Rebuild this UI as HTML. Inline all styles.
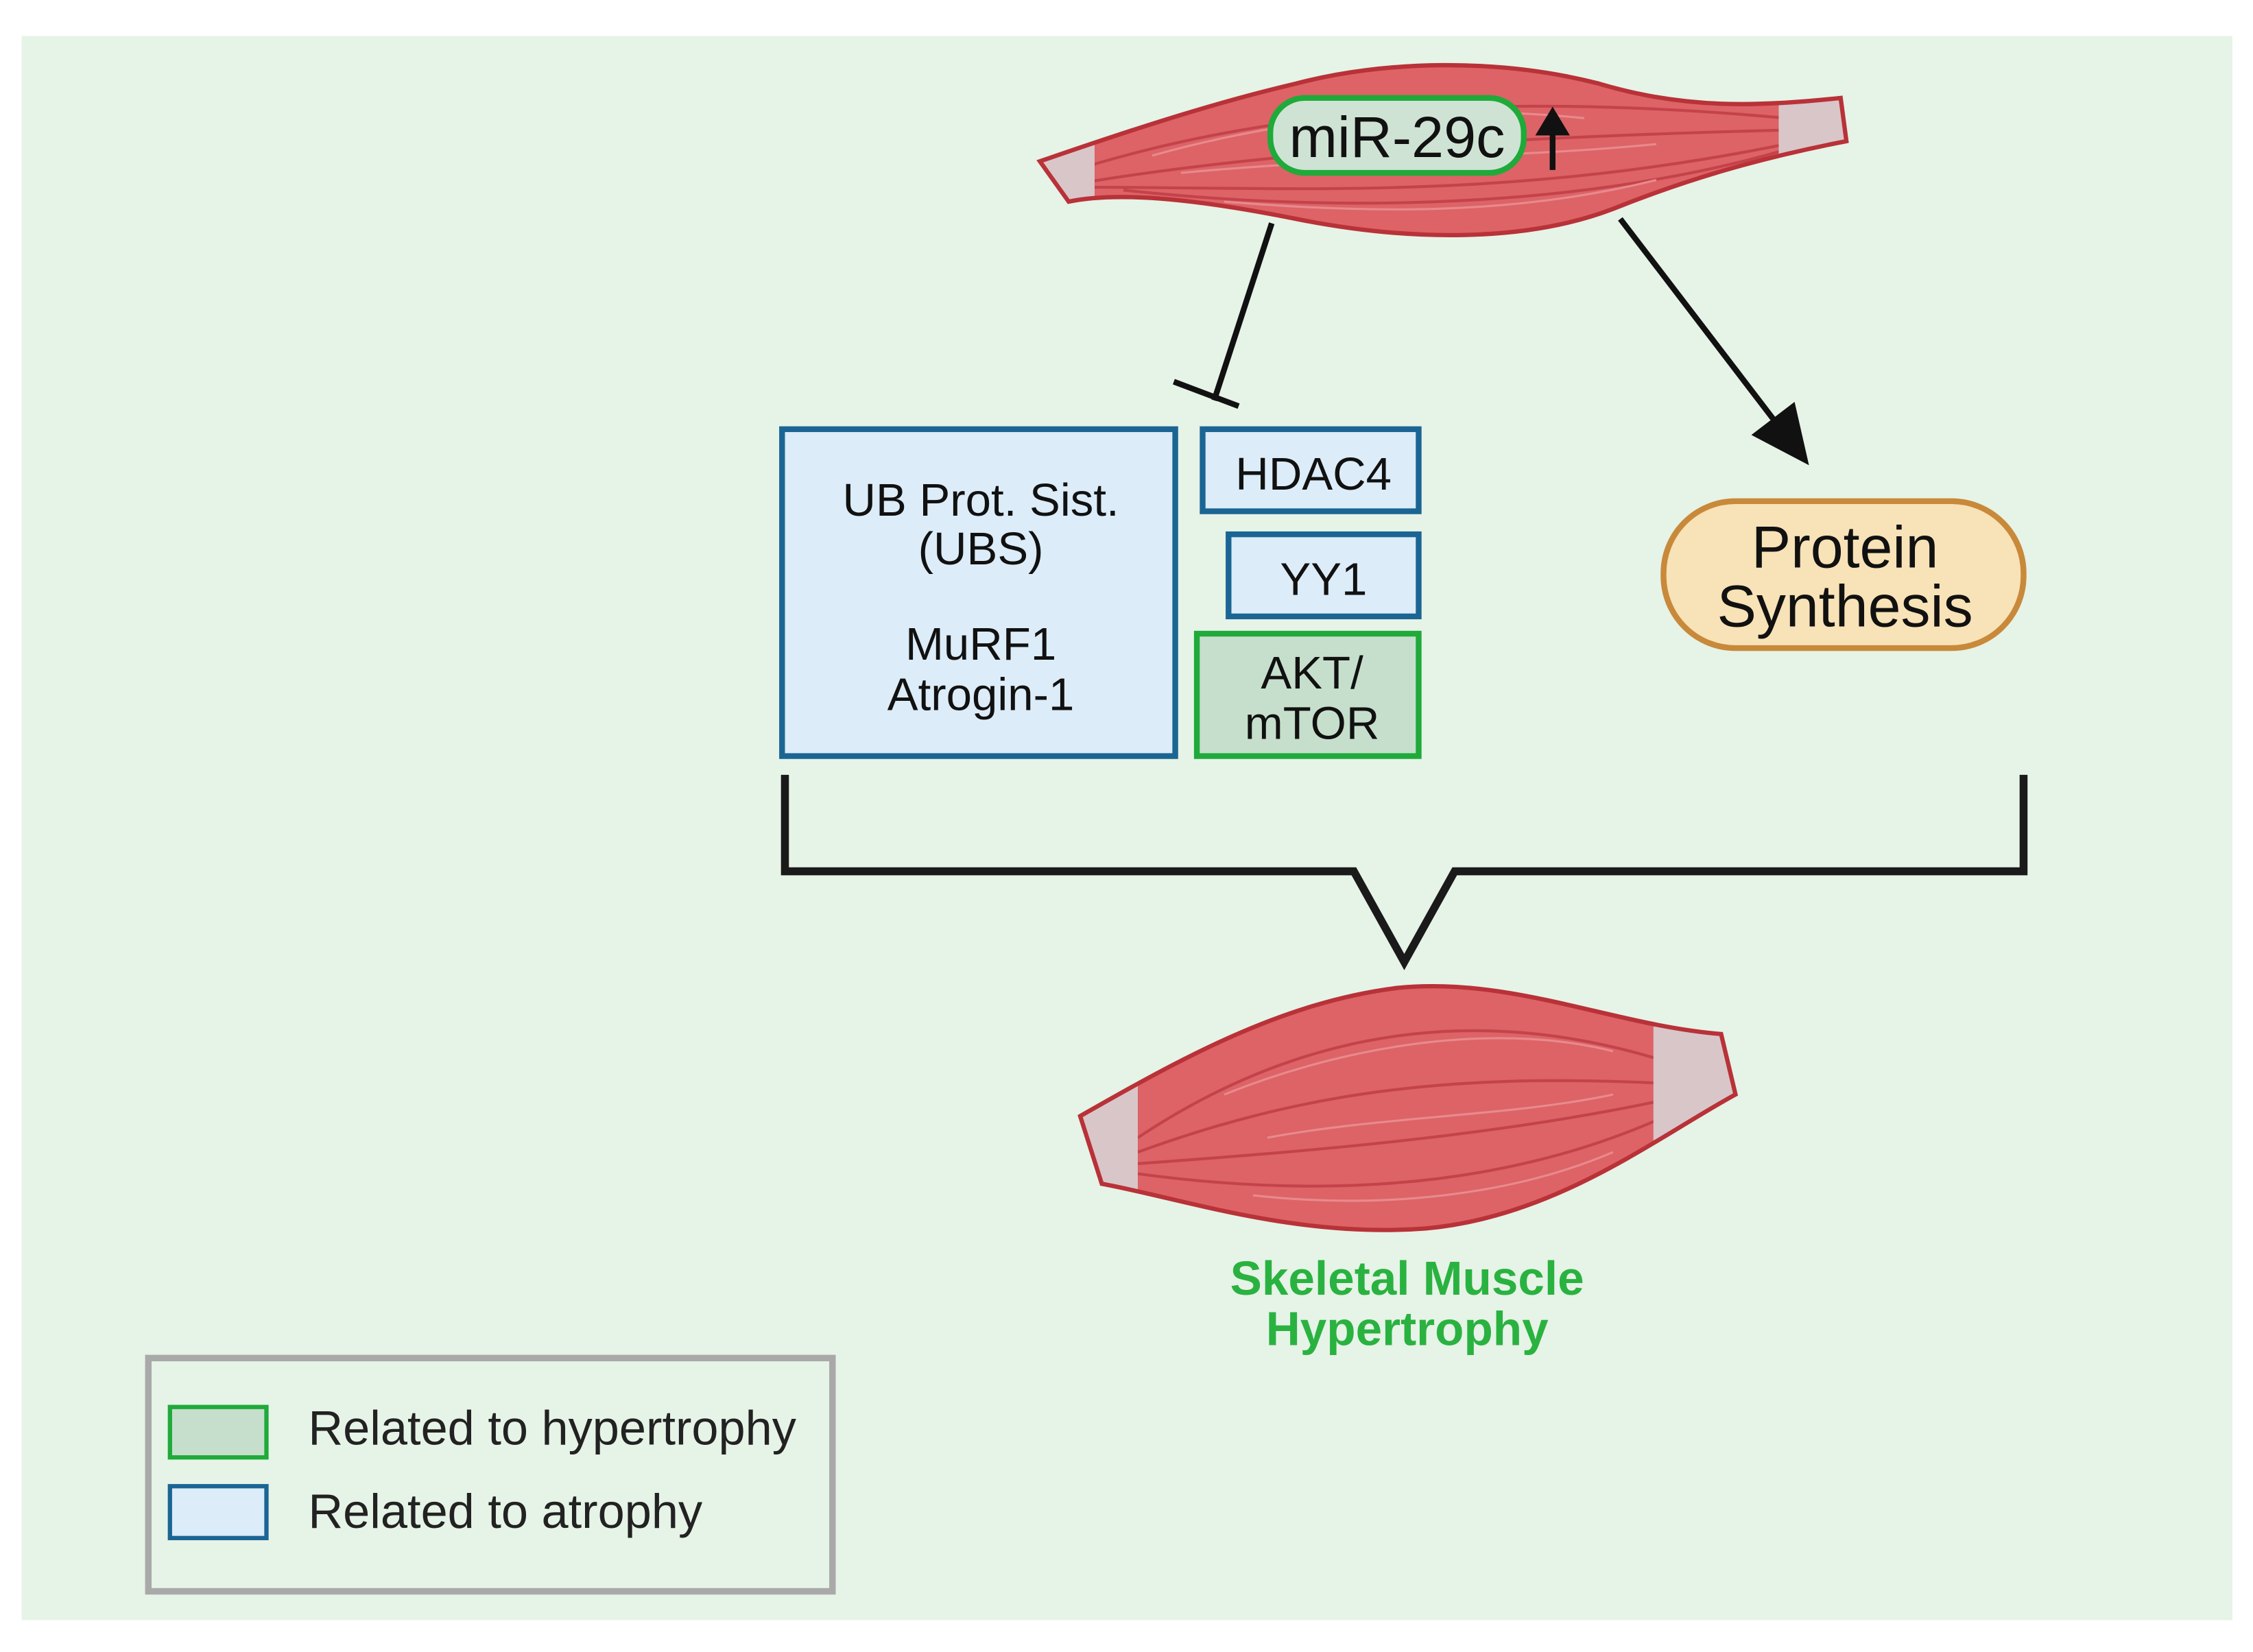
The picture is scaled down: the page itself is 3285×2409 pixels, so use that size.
<!DOCTYPE html>
<html><head><meta charset="utf-8"><style>
html,body{margin:0;padding:0;background:#fff;}
svg{display:block;}
text{font-family:"Liberation Sans",sans-serif;}
</style></head><body>
<svg width="3285" height="2409" viewBox="0 0 1564.3 1147.1" xmlns="http://www.w3.org/2000/svg">
<defs>
<clipPath id="m1"><path d="M722,112 C780,92 840,72 900,58 C960,42 1040,40 1110,58 C1170,76 1220,74 1278,68 L1282,98 C1220,110 1170,125 1120,145 C1060,168 980,168 900,152 C840,140 780,132 742,140 Z"/></clipPath>
<clipPath id="m2"><path d="M750,775 C820,735 890,696 970,686 C1050,678 1120,712 1195,718 L1205,760 C1150,790 1080,845 990,853 C900,860 820,832 765,822 Z"/></clipPath>
</defs>
<rect x="15" y="25" width="1535" height="1100" fill="#e6f3e7"/>

<!-- top muscle -->
<g clip-path="url(#m1)">
<rect x="700" y="30" width="600" height="150" fill="#dd6367"/>
<path d="M740,120 C850,85 1000,60 1240,82 M745,128 C880,105 1050,95 1250,90 M760,130 C900,130 1050,140 1250,98 M780,132 C900,145 1080,150 1240,104" stroke="#c4434a" stroke-width="2" fill="none"/>
<path d="M800,108 C900,80 1000,72 1100,82 M820,120 C950,108 1050,110 1150,100 M850,140 C950,148 1050,150 1150,125" stroke="#e88a8d" stroke-width="1.5" fill="none"/>
<rect x="700" y="30" width="60" height="150" fill="#d9c6c9"/>
<rect x="1235" y="30" width="60" height="150" fill="#d9c6c9"/>
</g>
<path d="M722,112 C780,92 840,72 900,58 C960,42 1040,40 1110,58 C1170,76 1220,74 1278,68 L1282,98 C1220,110 1170,125 1120,145 C1060,168 980,168 900,152 C840,140 780,132 742,140 Z" fill="none" stroke="#b83238" stroke-width="3"/>
<rect x="882" y="68" width="176" height="52" rx="24" fill="#cfe3d4" stroke="#1faa3a" stroke-width="4"/>
<text x="970" y="109" font-size="40" text-anchor="middle" fill="#111" textLength="150" lengthAdjust="spacingAndGlyphs">miR-29c</text>
<line x1="1078" y1="118" x2="1078" y2="90" stroke="#111" stroke-width="4"/>
<polygon points="1078,74 1066,94 1090,94" fill="#111"/>

<!-- connectors -->
<line x1="883" y1="155" x2="843" y2="278" stroke="#111" stroke-width="4"/>
<line x1="815" y1="265" x2="860" y2="282" stroke="#111" stroke-width="4"/>
<line x1="1125" y1="152" x2="1232" y2="292" stroke="#111" stroke-width="4"/>
<polygon points="1256,323 1216,302 1246,279" fill="#111"/>

<!-- boxes -->
<rect x="543" y="298" width="273" height="227" fill="#dcecf8" stroke="#1b6594" stroke-width="4"/>
<text font-size="32" text-anchor="middle" fill="#111"><tspan x="681" y="358">UB Prot. Sist.</tspan><tspan x="681" y="392">(UBS)</tspan><tspan x="681" y="458">MuRF1</tspan><tspan x="681" y="493">Atrogin-1</tspan></text>
<rect x="835" y="298" width="150" height="57" fill="#dcecf8" stroke="#1b6594" stroke-width="4"/>
<text x="912" y="340" font-size="32" text-anchor="middle" fill="#111">HDAC4</text>
<rect x="853" y="371" width="132" height="57" fill="#dcecf8" stroke="#1b6594" stroke-width="4"/>
<text x="919" y="413" font-size="32" text-anchor="middle" fill="#111">YY1</text>
<rect x="831" y="440" width="154" height="85" fill="#c6dfcc" stroke="#1faa3a" stroke-width="4"/>
<text font-size="32" text-anchor="middle" fill="#111"><tspan x="911" y="478">AKT/</tspan><tspan x="911" y="513">mTOR</tspan></text>
<rect x="1155" y="348" width="250" height="102" rx="50" fill="#f8e2b7" stroke="#c8893a" stroke-width="4"/>
<text font-size="41" text-anchor="middle" fill="#111"><tspan x="1281" y="394">Protein</tspan><tspan x="1281" y="435">Synthesis</tspan></text>

<!-- bracket -->
<polyline points="545,538 545,605 940,605 975,668 1010,605 1405,605 1405,538" fill="none" stroke="#1a1a1a" stroke-width="5.5"/>

<!-- bottom muscle -->
<g clip-path="url(#m2)">
<rect x="740" y="670" width="480" height="200" fill="#dd6367"/>
<path d="M790,790 C880,730 1000,690 1150,735 M790,800 C900,760 1000,745 1150,752 M790,808 C900,800 1030,790 1150,765 M790,815 C900,830 1030,830 1150,778" stroke="#c4434a" stroke-width="2" fill="none"/>
<path d="M850,760 C950,720 1050,712 1120,730 M880,790 C960,775 1050,775 1120,760 M870,830 C960,840 1050,830 1120,800" stroke="#e88a8d" stroke-width="1.5" fill="none"/>
<rect x="740" y="670" width="50" height="200" fill="#d9c6c9"/>
<rect x="1148" y="670" width="70" height="200" fill="#d9c6c9"/>
</g>
<path d="M750,775 C820,735 890,696 970,686 C1050,678 1120,712 1195,718 L1205,760 C1150,790 1080,845 990,853 C900,860 820,832 765,822 Z" fill="none" stroke="#b83238" stroke-width="3"/>
<text font-size="33" font-weight="bold" text-anchor="middle" fill="#2ab240"><tspan x="977" y="899">Skeletal Muscle</tspan><tspan x="977" y="934">Hypertrophy</tspan></text>

<!-- legend -->
<rect x="103" y="943" width="475" height="162" fill="none" stroke="#a9a9a9" stroke-width="4.5"/>
<rect x="118" y="977" width="67" height="35" fill="#c6dfcc" stroke="#1faa3a" stroke-width="3"/>
<rect x="118" y="1032" width="67" height="36" fill="#dcecf8" stroke="#1b6594" stroke-width="3"/>
<text x="214" y="1003" font-size="33.5" fill="#222">Related to hypertrophy</text>
<text x="214" y="1061" font-size="33.5" fill="#222">Related to atrophy</text>
</svg>
</body></html>
